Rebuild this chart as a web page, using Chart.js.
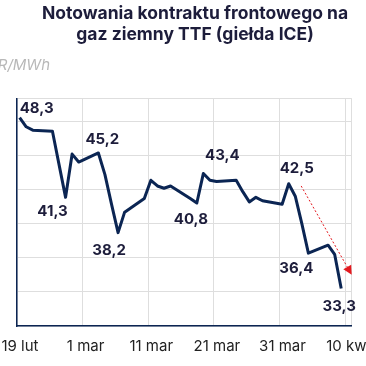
<!DOCTYPE html>
<html>
<head>
<meta charset="utf-8">
<script src="https://cdn.jsdelivr.net/npm/chart.js@4"></script>
<style>
  html, body { margin: 0; padding: 0; background: #fff; }
  #wrap { width: 366px; height: 366px; }
</style>
</head>
<body>
<div id="wrap"><canvas id="myChart" width="366" height="366"></canvas></div>
<script>
// front-month TTF settlement, EUR/MWh
const dates = [
  '2025-02-19', '2025-02-20', '2025-02-21', '2025-02-24', '2025-02-25', '2025-02-26', '2025-02-27', '2025-02-28',
  '2025-03-03', '2025-03-04', '2025-03-05', '2025-03-06', '2025-03-07',
  '2025-03-10', '2025-03-11', '2025-03-12', '2025-03-13', '2025-03-14',
  '2025-03-17', '2025-03-18', '2025-03-19', '2025-03-20', '2025-03-21',
  '2025-03-24', '2025-03-25', '2025-03-26', '2025-03-27', '2025-03-28',
  '2025-03-31', '2025-04-01', '2025-04-02', '2025-04-03', '2025-04-04',
  '2025-04-07', '2025-04-08', '2025-04-09'
];
const prices = [
  48.3, 47.5, 47.2, 47.1, 44.2, 41.3, 45.1, 44.4,
  45.2, 43.3, 40.7, 38.2, 40.0,
  41.2, 42.8, 42.3, 42.1, 42.3,
  41.2, 40.8, 43.4, 42.8, 42.7,
  42.8, 41.8, 40.9, 41.3, 41.0,
  40.7, 42.5, 41.4, 39.0, 36.4,
  37.1, 36.3, 33.3
];
const labelledDates = ['2025-02-19', '2025-02-26', '2025-03-03', '2025-03-06', '2025-03-18',
                       '2025-03-19', '2025-04-01', '2025-04-04', '2025-04-09'];
const tickDays = [0, 10, 20, 30, 40, 50];
const tickLabels = ['19 lut', '1 mar', '11 mar', '21 mar', '31 mar', '10 kwi'];
const yTicks = [30, 33, 36, 39, 42, 45, 48, 50];
// trend arrow, [day, value]
const arrowFrom = [43.3, 42.3];
const arrowTo = [51.0, 34.5];

const START = Date.parse('2025-02-19');
const dayOf = d => (Date.parse(d) - START) / 864e5;
const SHIFT = 0.4; // settlement plotted inside the day

// label offsets from the point (px), same order as labelledDates
const labelOffsets = [[17, -9], [-13, 14], [4, -13], [-9, 18], [-6, 16], [19, -18], [8, -15], [-12, 15], [-2, 18]];

const navy = '#0b2553';
const textColor = '#1d1d3b';

const extras = {
  id: 'extras',
  afterDatasetsDraw(chart) {
    const ctx = chart.ctx, x = chart.scales.x, y = chart.scales.y;
    ctx.save();
    // arrow
    const x1 = x.getPixelForValue(arrowFrom[0]), y1 = y.getPixelForValue(arrowFrom[1]);
    const x2 = x.getPixelForValue(arrowTo[0]), y2 = y.getPixelForValue(arrowTo[1]);
    const ang = Math.atan2(y2 - y1, x2 - x1);
    const hl = 9, hw = 4.5;
    const bx = x2 - hl * Math.cos(ang), by = y2 - hl * Math.sin(ang);
    ctx.strokeStyle = '#e3191f';
    ctx.lineWidth = 1;
    ctx.setLineDash([2, 2]);
    ctx.beginPath();
    ctx.moveTo(x1, y1);
    ctx.lineTo(bx, by);
    ctx.stroke();
    ctx.setLineDash([]);
    ctx.fillStyle = '#e3191f';
    ctx.beginPath();
    ctx.moveTo(x2, y2);
    ctx.lineTo(bx + hw * Math.sin(ang), by - hw * Math.cos(ang));
    ctx.lineTo(bx - hw * Math.sin(ang), by + hw * Math.cos(ang));
    ctx.closePath();
    ctx.fill();

    // value labels
    ctx.font = 'bold 15px Inter';
    ctx.fillStyle = textColor;
    ctx.textAlign = 'center';
    ctx.textBaseline = 'middle';
    labelledDates.forEach((d, i) => {
      const idx = dates.indexOf(d);
      const px = x.getPixelForValue(dayOf(d) + SHIFT);
      const py = y.getPixelForValue(prices[idx]);
      const txt = prices[idx].toFixed(1).replace('.', ',');
      ctx.fillText(txt, px + labelOffsets[i][0], py + labelOffsets[i][1]);
    });

    // title and unit
    ctx.font = 'bold 17.5px Inter';
    ctx.fillStyle = textColor;
    ctx.fillText('Notowania kontraktu frontowego na', 195, 14);
    ctx.fillText('gaz ziemny TTF (giełda ICE)', 195, 35);
    ctx.font = 'italic 15px Inter';
    ctx.fillStyle = '#b8b8b8';
    ctx.textAlign = 'right';
    ctx.fillText('EUR/MWh', 50, 65);
    ctx.restore();
  }
};

new Chart(document.getElementById('myChart').getContext('2d'), {
  type: 'line',
  data: {
    datasets: [{
      data: dates.map((d, i) => ({ x: dayOf(d) + SHIFT, y: prices[i] })),
      borderColor: navy,
      borderWidth: 3,
      pointRadius: 0,
      tension: 0,
      borderJoinStyle: 'round',
      borderCapStyle: 'butt'
    }]
  },
  options: {
    responsive: false,
    animation: false,
    layout: { padding: { left: 17, right: 14.3, top: 98.3, bottom: 0 } },
    plugins: {
      legend: { display: false },
      tooltip: { enabled: false },
      title: { display: false }
    },
    scales: {
      x: {
        type: 'linear',
        min: 0,
        max: 51,
        afterBuildTicks: s => { s.ticks = tickDays.concat([51]).map(v => ({ value: v })); },
        afterFit: s => { s.paddingLeft = 0; s.paddingRight = 0; },
        ticks: {
          autoSkip: false,
          maxRotation: 0,
          padding: 11,
          labelOffset: 3,
          color: '#222',
          font: { family: 'Inter', size: 15 },
          callback: v => {
            const i = tickDays.indexOf(v);
            return i >= 0 ? tickLabels[i] : '';
          }
        },
        grid: { color: '#dedede', lineWidth: 1, drawTicks: false },
        border: { color: navy, width: 1.5 }
      },
      y: {
        min: 30,
        max: 50,
        afterBuildTicks: s => { s.ticks = yTicks.map(v => ({ value: v })); },
        ticks: { display: false },
        grid: { color: '#dedede', lineWidth: 1, drawTicks: false },
        border: { color: navy, width: 1.5 }
      }
    }
  },
  plugins: [extras]
});
</script>
</body>
</html>
